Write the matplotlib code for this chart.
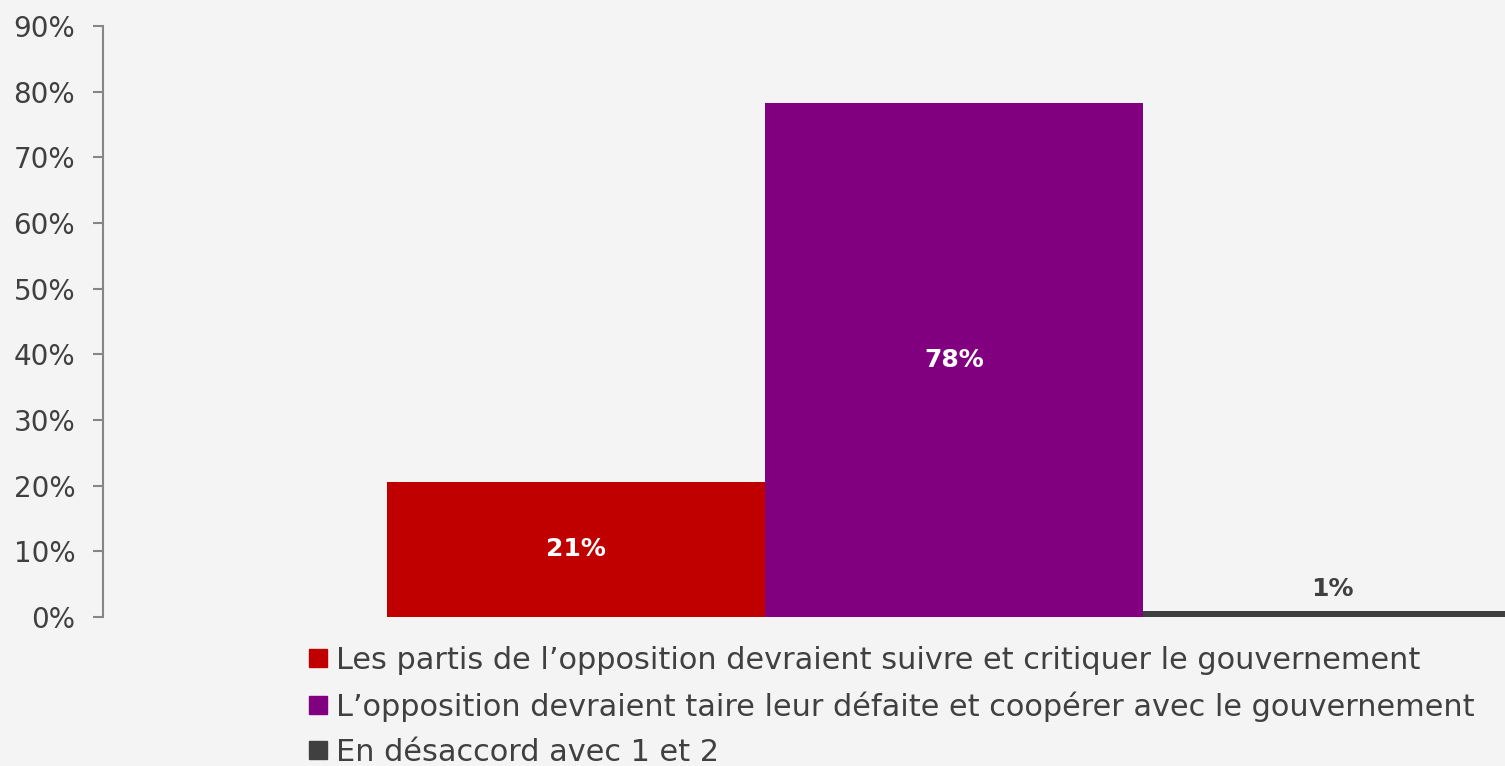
import matplotlib
matplotlib.use("Agg")
import matplotlib.pyplot as plt
from matplotlib.lines import Line2D

series = [
    "Les partis de l\u2019opposition devraient suivre et critiquer le gouvernement",
    "L\u2019opposition devraient taire leur défaite et coopérer avec le gouvernement",
    "En désaccord avec 1 et 2",
]
values = [20.6, 78.3, 0.9]
labels = ["21%", "78%", "1%"]
colors = ["#C00000", "#800080", "#404040"]
yticks = [0, 10, 20, 30, 40, 50, 60, 70, 80, 90]
ytick_labels = [f"{t}%" for t in yticks]

W, H = 1505, 766
fig = plt.figure(figsize=(W / 100, H / 100), dpi=100)
fig.patch.set_facecolor("#F4F4F4")
plt.rcParams['font.family'] = ['DejaVu Sans']

ax_left, ax_right = 103, 1805
ax_bottom, ax_top = 617, 26
ax = fig.add_axes([ax_left / W, (H - ax_bottom) / H, (ax_right - ax_left) / W, (ax_bottom - ax_top) / H])
ax.set_facecolor("none")

positions = [-1, 0, 1]
bars = ax.bar(positions, values, width=1.0, color=colors, zorder=2)

for x, v, lab, c in zip(positions, values, labels, colors):
    if v > 5:
        ax.text(x, v / 2, lab, ha="center", va="center", color="white",
                fontsize=18, fontweight="bold")
    else:
        ax.text(x, v + 1.5, lab, ha="center", va="bottom", color="#404040",
                fontsize=18, fontweight="bold")

ax.set_xlim(-2.2513, 2.2513)
ax.set_ylim(0, 90)
ax.set_yticks(yticks)
ax.set_yticklabels(ytick_labels)
ax.set_xticks([])
for s in ["top", "right", "bottom"]:
    ax.spines[s].set_visible(False)
ax.spines["left"].set_color("#868686")
ax.spines["left"].set_linewidth(1.5)
ax.tick_params(axis="y", length=7, width=1.5, color="#868686", pad=13,
               labelsize=20, labelcolor="#404040")

handles = [Line2D([0], [0], marker="s", linestyle="none", markersize=12.5,
                  markerfacecolor=c, markeredgecolor=c) for c in colors]
fig.legend(handles, series, loc="upper left", bbox_to_anchor=(310 / W, (H - 646) / H),
           frameon=False, fontsize=21.9, labelcolor="#404040", handlelength=0.55,
           handletextpad=0.3, labelspacing=0.53, borderpad=0, borderaxespad=0)

fig.savefig("out.png", dpi=100, facecolor=fig.get_facecolor())
